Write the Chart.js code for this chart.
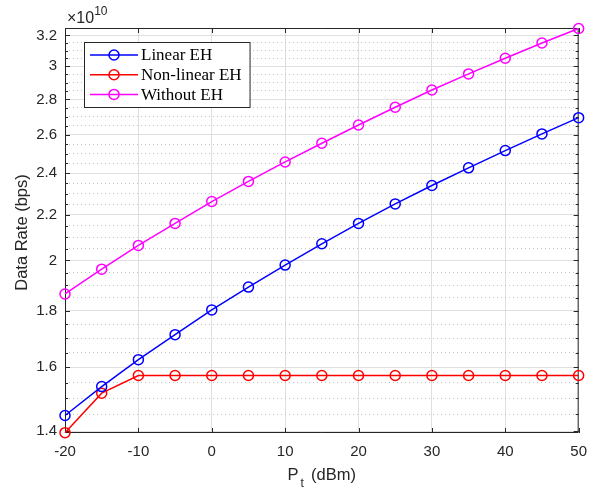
<!DOCTYPE html>
<html>
<head>
<meta charset="utf-8">
<script src="https://cdn.jsdelivr.net/npm/chart.js@4.4.0/dist/chart.umd.min.js"></script>
<style>
html, body { margin: 0; padding: 0; background: #fff; }
canvas { display: block; }
</style>
</head>
<body>
<canvas id="rateChart" width="597" height="487"></canvas>
<script>
// transmit power (dBm)
const powerDbm = [-20, -15, -10, -5, 0, 5, 10, 15, 20, 25, 30, 35, 40, 45, 50];
// data rate, in units of 1e10 bps
const linearEH = [1.447, 1.537, 1.626, 1.713, 1.804, 1.892, 1.981, 2.071, 2.161, 2.251, 2.339, 2.427, 2.516, 2.605, 2.695];
const nonLinearEH = [1.396, 1.516, 1.573, 1.573, 1.573, 1.573, 1.573, 1.573, 1.573, 1.573, 1.573, 1.573, 1.573, 1.573, 1.573];
const withoutEH = [1.865, 1.964, 2.064, 2.161, 2.262, 2.359, 2.457, 2.555, 2.654, 2.754, 2.855, 2.953, 3.051, 3.150, 3.247];
const seriesNames = ['Linear EH', 'Non-linear EH', 'Without EH'];
const seriesColors = ['#0000ff', '#ff0000', '#ff00ff'];

const xTicks = [-20, -10, 0, 10, 20, 30, 40, 50];
const yTicks = [1.4, 1.6, 1.8, 2, 2.2, 2.4, 2.6, 2.8, 3, 3.2];
const yMinorStep = 0.05;
const yMin = 1.395, yMax = 3.25;

const axisColor = '#262626';
const sansFont = '"Liberation Sans", Arial, Helvetica, sans-serif';
const serifFont = '"Liberation Serif", "Times New Roman", serif';

function isMajorY(v) {
    return yTicks.some(t => Math.abs(t - v) < 1e-6);
}

function allYTicks() {
    const list = [];
    for (let v = yTicks[0]; v < yMax - 0.001; v += yMinorStep) {
        list.push(Math.round(v * 100) / 100);
    }
    return list;
}

function toPoints(ys) {
    return ys.map((y, i) => ({ x: powerDbm[i], y: y }));
}

const allSeries = [linearEH, nonLinearEH, withoutEH];
const datasets = allSeries.map((ys, i) => ({
    label: seriesNames[i],
    data: toPoints(ys),
    borderColor: seriesColors[i],
    backgroundColor: 'rgba(0,0,0,0)',
    borderWidth: 1.5,
    pointRadius: 5,
    pointHoverRadius: 5,
    pointBorderWidth: 1.5,
    pointBackgroundColor: 'rgba(0,0,0,0)',
    pointBorderColor: seriesColors[i],
    tension: 0,
    clip: false
}));

// box, inward ticks, axis titles, exponent label and legend (matlab look)
const matlabAxes = {
    id: 'matlabAxes',
    beforeDatasetsDraw(chart) {
        const { ctx, chartArea: a, scales } = chart;
        ctx.save();
        ctx.strokeStyle = axisColor;
        ctx.lineWidth = 1;
        ctx.beginPath();
        ctx.rect(a.left + 0.5, a.top + 0.5, a.right - a.left - 1, a.bottom - a.top - 1);
        ctx.stroke();

        ctx.beginPath();
        xTicks.forEach(t => {
            const px = Math.round(scales.x.getPixelForValue(t)) + 0.5;
            ctx.moveTo(px, a.bottom);
            ctx.lineTo(px, a.bottom - 5);
            ctx.moveTo(px, a.top);
            ctx.lineTo(px, a.top + 5);
        });
        allYTicks().forEach(t => {
            const py = Math.round(scales.y.getPixelForValue(t)) + 0.5;
            const len = isMajorY(t) ? 5 : 3;
            ctx.moveTo(a.left, py);
            ctx.lineTo(a.left + len, py);
            ctx.moveTo(a.right, py);
            ctx.lineTo(a.right - len, py);
        });
        ctx.stroke();
        ctx.restore();
    },
    afterDraw(chart) {
        const { ctx, chartArea: a } = chart;
        ctx.save();
        ctx.fillStyle = axisColor;
        ctx.textBaseline = 'middle';

        // exponent label
        ctx.textAlign = 'left';
        ctx.font = '16px ' + sansFont;
        ctx.fillText('\u00d710', a.left + 2, 19);
        const w10 = ctx.measureText('\u00d710').width;
        ctx.font = '12px ' + sansFont;
        ctx.fillText('10', a.left + 2 + w10, 12);

        // x title with subscript
        ctx.font = '16.5px ' + sansFont;
        const wP = ctx.measureText('P').width;
        const wRest = ctx.measureText('  (dBm)').width;
        ctx.font = '12px ' + sansFont;
        const wt = ctx.measureText('t').width;
        let x0 = (a.left + a.right) / 2 - (wP + wt + wRest) / 2;
        ctx.font = '16.5px ' + sansFont;
        ctx.fillText('P', x0, 475);
        ctx.font = '12px ' + sansFont;
        ctx.fillText('t', x0 + wP + 2, 484);
        ctx.font = '16.5px ' + sansFont;
        ctx.fillText('  (dBm)', x0 + wP + wt, 475);

        // y title
        ctx.save();
        ctx.translate(22, (a.top + a.bottom) / 2 + 2);
        ctx.rotate(-Math.PI / 2);
        ctx.textAlign = 'center';
        ctx.font = '16.5px ' + sansFont;
        ctx.fillText('Data Rate (bps)', 0, 0);
        ctx.restore();

        // legend
        const bx = 84, by = 42, rowH = 19.7;
        ctx.font = '17px ' + serifFont;
        const textX = 141;
        const maxW = Math.max(...chart.data.datasets.map(d => ctx.measureText(d.label).width));
        const bw = textX + maxW + 8 - bx;
        const bh = 65;
        ctx.fillStyle = '#ffffff';
        ctx.fillRect(bx, by, bw, bh);
        ctx.strokeStyle = axisColor;
        ctx.lineWidth = 1;
        ctx.strokeRect(bx + 0.5, by + 0.5, bw, bh);
        chart.data.datasets.forEach((d, i) => {
            const yy = by + 13 + i * rowH;
            ctx.strokeStyle = d.borderColor;
            ctx.lineWidth = 1.5;
            ctx.beginPath();
            ctx.moveTo(90, yy);
            ctx.lineTo(138, yy);
            ctx.stroke();
            ctx.beginPath();
            ctx.arc(114, yy, 5, 0, Math.PI * 2);
            ctx.stroke();
            ctx.fillStyle = '#000000';
            ctx.textAlign = 'left';
            ctx.fillText(d.label, textX, yy + 1);
        });
        ctx.restore();
    }
};

const chart = new Chart(document.getElementById('rateChart'), {
    type: 'line',
    data: { datasets: datasets },
    options: {
        responsive: false,
        devicePixelRatio: 1,
        animation: false,
        layout: { padding: { left: 0, top: 28, right: 14, bottom: 0 } },
        plugins: {
            legend: { display: false },
            tooltip: { enabled: false }
        },
        scales: {
            x: {
                type: 'linear',
                min: -20,
                max: 50,
                bounds: 'data',
                afterBuildTicks: scale => { scale.ticks = xTicks.map(v => ({ value: v })); },
                afterFit: scale => { scale.height = 54; },
                grid: { color: '#dfdfdf', lineWidth: 1, drawTicks: false },
                border: { display: false },
                ticks: {
                    padding: 10,
                    color: axisColor,
                    font: { family: sansFont, size: 15 },
                    maxRotation: 0,
                    autoSkip: false,
                    callback: v => String(v)
                }
            },
            y: {
                type: 'logarithmic',
                min: yMin,
                max: yMax,
                bounds: 'data',
                afterBuildTicks: scale => { scale.ticks = allYTicks().map(v => ({ value: v })); },
                afterFit: scale => { scale.width = 65; },
                grid: {
                    drawTicks: false,
                    lineWidth: 1,
                    color: c => (c.tick && !isMajorY(c.tick.value)) ? '#c2c2c2' : '#dfdfdf'
                },
                border: {
                    display: false,
                    dash: c => (c.tick && !isMajorY(c.tick.value)) ? [1, 3] : []
                },
                ticks: {
                    padding: 8,
                    color: axisColor,
                    font: { family: sansFont, size: 15 },
                    autoSkip: false,
                    callback: v => isMajorY(v) ? String(v) : ''
                }
            }
        }
    },
    plugins: [matlabAxes]
});
</script>
</body>
</html>
